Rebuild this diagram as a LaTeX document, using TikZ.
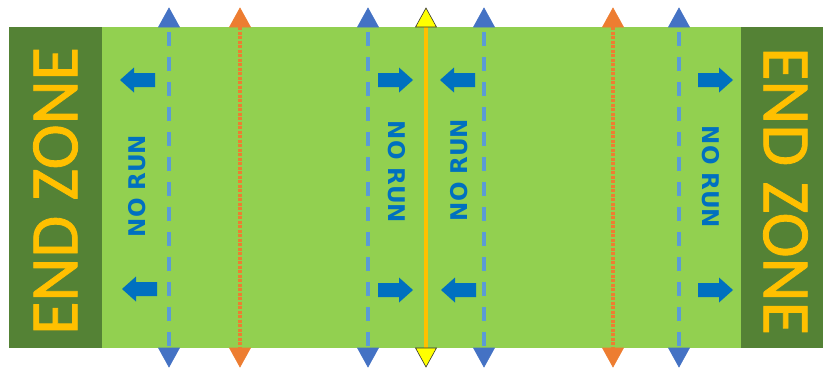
\documentclass[tikz,border=0pt]{standalone}
\usepackage{fontspec}
\newfontfamily\ezfont[FakeBold=1.2]{Carlito}
\newfontfamily\nrfont{DejaVu Sans}
\definecolor{fieldgreen}{HTML}{92D050}
\definecolor{ezgreen}{HTML}{548235}
\definecolor{ezyellow}{HTML}{FFC000}
\definecolor{arrowblue}{HTML}{0070C0}
\definecolor{lineblue}{HTML}{5B9BD5}
\definecolor{triblue}{HTML}{4472C4}
\definecolor{lineorange}{HTML}{ED7D31}
\definecolor{triyellow}{HTML}{FFFF00}
\tikzset{
  bluedash/.style={draw=lineblue, line width=4.5pt, dash pattern=on 14pt off 11pt},
  orangedot/.style={draw=lineorange, line width=3.5pt, dash pattern=on 3pt off 1.5pt},
  midline/.style={draw=ezyellow, line width=4.5pt},
  ezlabel/.style={text=ezyellow, font=\ezfont\fontsize{68}{68}\selectfont, inner sep=0pt},
  nrlabel/.style={text=arrowblue, font=\nrfont\bfseries\fontsize{23}{23}\selectfont, inner sep=0pt},
}
\newcommand\blockarr[3]{%
  \fill[arrowblue, shift={(#1,#2)}, xscale=#3] (0,0) -- (-14,-12.5) -- (-14,-7) -- (-35,-7) -- (-35,7) -- (-14,7) -- (-14,12.5) -- cycle;}
\newcommand\marktri[3]{%
  \filldraw[fill=#2, draw=#3, line width=0.6pt] (#1-10.5,27) -- (#1+10.5,27) -- (#1,8) -- cycle;
  \filldraw[fill=#2, draw=#3, line width=0.6pt] (#1-10.5,348) -- (#1+10.5,348) -- (#1,367) -- cycle;}
\begin{document}
\begin{tikzpicture}[x=1pt, y=-1pt]
\useasboundingbox (0,0) rectangle (823,370);
% field
\fill[fieldgreen] (9,27) rectangle (823,348);
\fill[ezgreen] (9,27) rectangle (102,348);
\fill[ezgreen] (741,27) rectangle (823,348);
\node[ezlabel, rotate=90] (ezl) at (55.5,191) {END ZONE};
\node[ezlabel, rotate=-90] (ezr) at (785.5,191) {END ZONE};
% lines
\coordinate (b1t) at (169,27); \coordinate (b1b) at (169,348);
\coordinate (o1t) at (240,27); \coordinate (o1b) at (240,348);
\coordinate (b2t) at (368,27); \coordinate (b2b) at (368,348);
\coordinate (yt) at (426,27);  \coordinate (yb) at (426,348);
\coordinate (b3t) at (484,27); \coordinate (b3b) at (484,348);
\coordinate (o2t) at (613,27); \coordinate (o2b) at (613,348);
\coordinate (b4t) at (679,27); \coordinate (b4b) at (679,348);
\draw[bluedash] ([yshift=-5pt]b1t) -- (b1b);
\draw[bluedash] ([yshift=-5pt]b2t) -- (b2b);
\draw[bluedash] ([yshift=-5pt]b3t) -- (b3b);
\draw[bluedash] ([yshift=-5pt]b4t) -- (b4b);
\draw[orangedot] (o1t) -- (o1b);
\draw[orangedot] (o2t) -- (o2b);
\draw[midline] (yt) -- (yb);
% triangles
\marktri{169}{triblue}{triblue}
\marktri{240}{lineorange}{lineorange}
\marktri{368}{triblue}{triblue}
\marktri{426}{triyellow}{black!80}
\marktri{484}{triblue}{triblue}
\marktri{613}{lineorange}{lineorange}
\marktri{679}{triblue}{triblue}
% arrows
\blockarr{120}{80}{-1}
\blockarr{122}{289}{-1}
\blockarr{413}{80}{1}
\blockarr{413}{290}{1}
\blockarr{440}{80}{-1}
\blockarr{441}{290}{-1}
\blockarr{733}{80}{1}
\blockarr{733}{290}{1}
% no run labels
\node[nrlabel, rotate=90] (nr1) at (137,186) {NO RUN};
\node[nrlabel, rotate=-90] (nr2) at (397,172) {NO RUN};
\node[nrlabel, rotate=90] (nr3) at (459,170) {NO RUN};
\node[nrlabel, rotate=-90] (nr4) at (711,177) {NO RUN};
\end{tikzpicture}
\end{document}
